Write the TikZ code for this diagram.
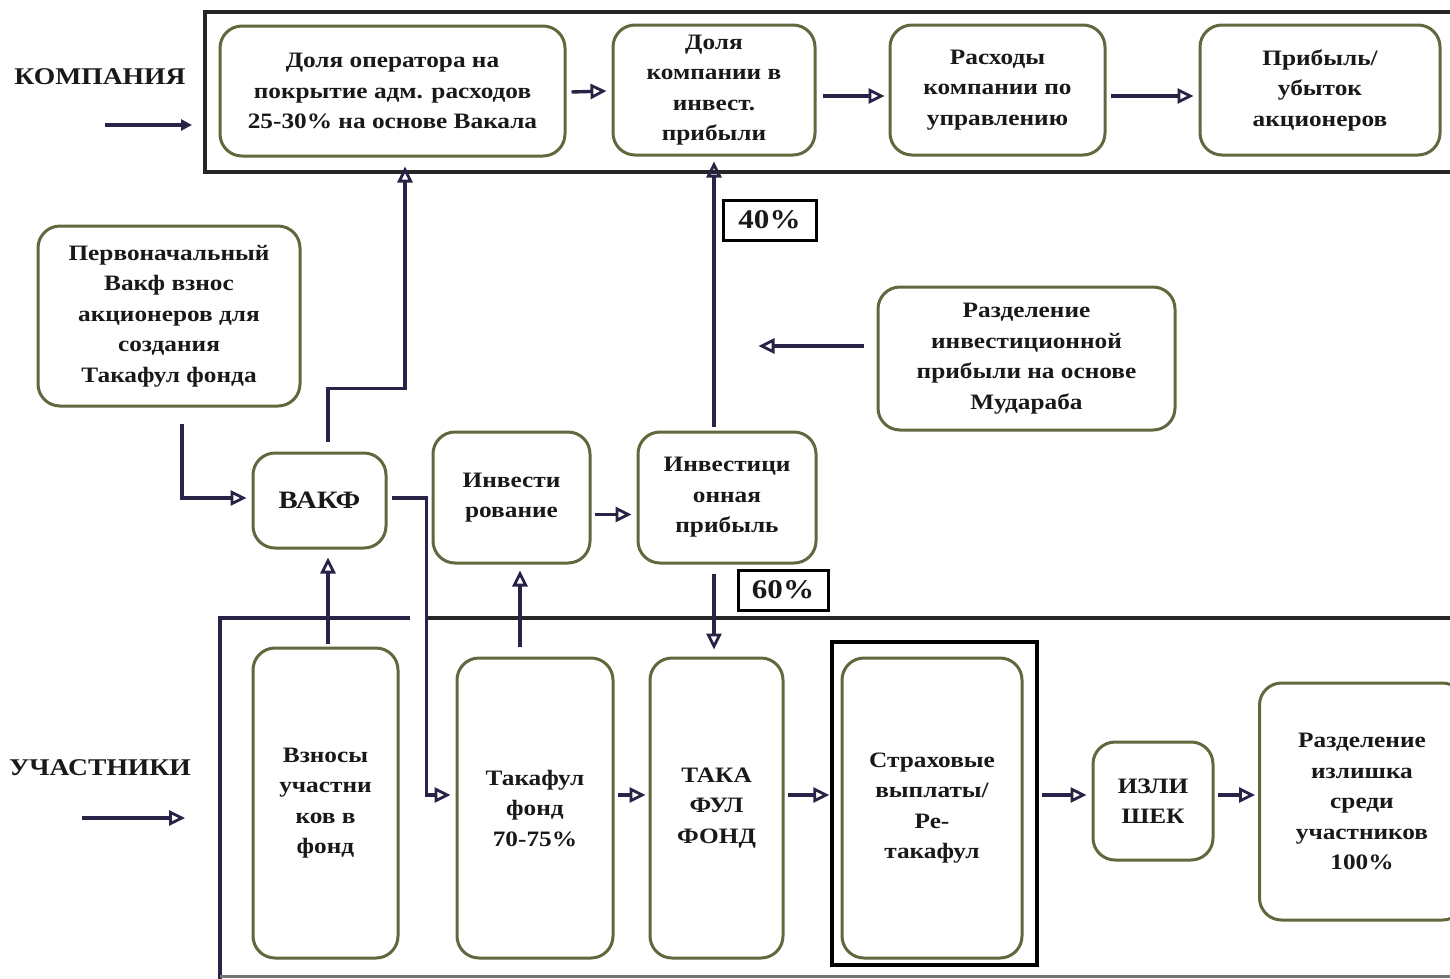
\documentclass[tikz,border=0pt]{standalone}
\usepackage{fontspec}
\setmainfont[FakeStretch=1.15]{Liberation Serif}
\usetikzlibrary{arrows.meta,calc}
\definecolor{boxc}{RGB}{98,104,62}
\definecolor{arrc}{RGB}{40,36,72}
\definecolor{txt}{RGB}{25,25,25}
\tikzset{
  box/.style={draw=boxc, line width=3pt, rounded corners=22pt, fill=white,
    align=center, inner sep=2pt, text=txt,
    font=\fontsize{22}{30.5}\selectfont\bfseries},
  arr/.style={draw=arrc, line width=3.4pt,
    -{Triangle[open, length=16pt, width=15pt, line width=2.8pt]}},
  ln/.style={draw=arrc, line width=3.2pt},
  frame/.style={draw=black!85, line width=3.4pt},
  pct/.style={draw=black, line width=3pt, fill=white, text=txt,
    font=\fontsize{27}{30}\selectfont\bfseries, inner sep=0pt},
  lbl/.style={text=txt, font=\fontsize{24}{30}\selectfont\bfseries, inner sep=0pt}
}
\begin{document}
\begin{tikzpicture}[x=1pt,y=-1pt]
\useasboundingbox[fill=white] (0,0) rectangle (1450,978);
% frames
\draw[frame] (1470,12) -- (205,12) -- (205,172) -- (1470,172);
\draw[ln] (220,990) -- (220,618) -- (410,618);
\draw[frame] (428,618) -- (1470,618);
\draw[draw=black!55, line width=3pt] (220,976) -- (1470,976);
% company boxes
\node[box, minimum width=345pt, minimum height=130pt] (a) at (392.5,91) {Доля оператора на\\покрытие адм. расходов\\25-30\% на основе Вакала};
\node[box, minimum width=202pt, minimum height=130pt] (b) at (714,90) {Доля\\компании в\\инвест.\\прибыли};
\node[box, minimum width=215pt, minimum height=130pt] (c) at (997.5,90) {Расходы\\компании по\\управлению};
\node[box, minimum width=240pt, minimum height=130pt] (d) at (1320,90) {Прибыль/\\убыток\\акционеров};
% middle
\node[box, minimum width=262pt, minimum height=180pt] (init) at (169,316) {Первоначальный\\Вакф взнос\\акционеров для\\создания\\Такафул фонда};
\node[box, minimum width=133pt, minimum height=95pt, font=\fontsize{25}{30}\selectfont\bfseries] (wakf) at (319.5,500.5) {ВАКФ};
\node[box, minimum width=157pt, minimum height=131pt] (inv) at (511.5,497.5) {Инвести\\рование};
\node[box, minimum width=178pt, minimum height=131pt] (prof) at (727,497.5) {Инвестици\\онная\\прибыль};
\node[box, minimum width=297pt, minimum height=143pt] (mud) at (1026.5,358.5) {Разделение\\инвестиционной\\прибыли на основе\\Мудараба};
% bottom
\node[box, minimum width=145pt, minimum height=310pt] (vzn) at (325.5,803) {Взносы\\участни\\ков в\\фонд};
\node[box, minimum width=156pt, minimum height=300pt] (tf) at (535,808) {Такафул\\фонд\\70-75\%};
\node[box, minimum width=133pt, minimum height=300pt] (tk) at (716.5,808) {ТАКА\\ФУЛ\\ФОНД};
\node[draw=black, line width=3.4pt, minimum width=205pt, minimum height=323pt, inner sep=0pt] (sfr) at (934.5,803.5) {};
\node[box, minimum width=180pt, minimum height=300pt] (str) at (932,808) {Страховые\\выплаты/\\Ре-\\такафул};
\node[box, minimum width=120pt, minimum height=118pt] (izl) at (1153,801) {ИЗЛИ\\ШЕК};
\node[box, minimum width=205pt, minimum height=237pt] (razd) at (1362,801.5) {Разделение\\излишка\\среди\\участников\\100\%};
% labels
\node[lbl] (komp) at (100,77) {КОМПАНИЯ};
\node[lbl] (uch) at (100,768) {УЧАСТНИКИ};
\coordinate (k1) at (105,125); \coordinate (k2) at (192,125);
\draw[arr, -{Triangle[length=11pt,width=11pt]}] (k1) -- (k2);
\coordinate (u1) at (82,818); \coordinate (u2) at (185,818);
\draw[arr] (u1) -- (u2);
\node[pct, minimum width=93pt, minimum height=40pt] (p40) at (769.5,220) {40\%};
\node[pct, minimum width=90pt, minimum height=40pt] (p60) at (783,590) {60\%};
% coordinates
\coordinate (row) at (0,795);
\coordinate (top) at (0,96);
% top chain
\draw[arr] ($(a.east)+(5,1)$) -- ($(b.west)+(-5,1)$);
\draw[arr] (b.east |- top) ++(6,0) -- ($(c.west |- top)+(-4,0)$);
\draw[arr] (c.east |- top) ++(4,0) -- ($(d.west |- top)+(-5,0)$);
% init -> wakf
\draw[arr] ($(init.south)+(13,16)$) |- ($(wakf.west)+(-5,-2.5)$);
% wakf -> a
\draw[arr] ($(wakf.north)+(8.5,-10)$) -- ++(0,-53) -| ($(a.south)+(12.5,9)$);
% wakf -> tf
\draw[arr] ($(wakf.east)+(4,-2.5)$) -- ++(35,0) |- ($(tf.west |- row)+(-5,0)$);
% vzn -> wakf
\draw[arr] ($(vzn.north)+(2.5,-3)$) -- ($(wakf.south)+(8.5,8)$);
% tf -> inv
\draw[arr] ($(tf.north)+(-15,-10)$) -- ($(inv.south)+(8.5,6)$);
% inv -> prof
\draw[arr] ($(inv.east)+(3,17)$) -- ($(prof.west)+(-5,17)$);
% prof -> b
\draw[arr] (prof.north -| b.south) ++(0,-4) -- ($(b.south)+(0,5)$);
% prof -> tk
\draw[arr] ($(prof.south -| b.south)+(0,9)$) -- ($(tk.north -| b.south)+(0,-7)$);
% mud arrow
\draw[arr] ($(mud.west)+(-13,-12.5)$) -- ($(mud.west)+(-118,-12.5)$);
% bottom chain
\draw[arr] (tf.east |- row) ++(3,0) -- ($(tk.west |- row)+(-3,0)$);
\draw[arr] (tk.east |- row) ++(3,0) -- ($(sfr.west |- row)+(-1,0)$);
\draw[arr] (sfr.east |- row) ++(3,0) -- ($(izl.west |- row)+(-5,0)$);
\draw[arr] (izl.east |- row) ++(3,0) -- ($(razd.west |- row)+(-3,0)$);
\end{tikzpicture}
\end{document}
